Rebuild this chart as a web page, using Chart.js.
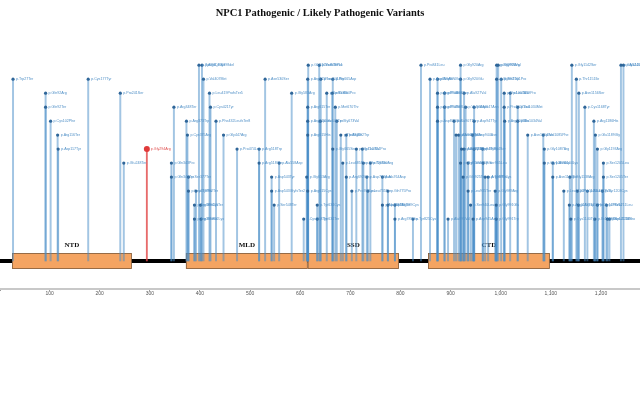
<!DOCTYPE html>
<html><head><meta charset="utf-8">
<script src="https://cdn.jsdelivr.net/npm/chart.js@4.4.0/dist/chart.umd.min.js"></script>
<style>html,body{margin:0;padding:0;background:#fff}</style>
</head><body>
<canvas id="c" width="640" height="400"></canvas>
<script>
// ---------------- DATA ----------------
const chartTitle = 'NPC1 Pathogenic / Likely Pathogenic Variants';
const proteinStart = 1;
const proteinLength = 1278;
const backboneLevel = -2;

const positions = [
  27, 92, 92, 102, 116, 117, 177, 241, 248,
  343, 343, 348, 373, 375, 377, 377, 389, 389, 392, 398, 401, 402, 404, 407, 419, 421, 432, 447, 474,
  518, 518, 530, 543, 543, 548, 558, 583, 607, 613, 615, 615, 615, 615, 615, 616, 634, 634,
  638, 641, 640, 653, 665, 664, 665, 670, 673, 681, 685, 692, 692, 703, 712, 724, 726, 733, 735, 740,
  764, 764, 775, 775, 789, 789, 825,
  841, 859, 874, 874, 874, 874, 888, 888, 895, 907, 911, 916, 920, 920, 920, 922, 925, 927, 927, 930,
  935, 935, 940, 944, 945, 947, 947, 947, 964, 965, 969, 975, 989, 991, 991, 992, 995, 992, 1001,
  1007, 1007, 1008, 1019, 1034, 1034, 1054, 1085, 1087, 1087, 1104, 1104,
  1126, 1137, 1140, 1138, 1142, 1151, 1153, 1155, 1156, 1168, 1173, 1186, 1188, 1189, 1193, 1193,
  1203, 1205, 1205, 1211, 1213, 1217, 1240, 1245
];
const levels = [
  11, 10, 9, 8, 7, 6, 11, 10, 5,
  4, 5, 9, 8, 7, 4, 3, 2, 1, 3, 12, 2, 1, 12, 11, 10, 9, 8, 7, 6,
  6, 5, 11, 4, 3, 2, 5, 10, 1, 4, 3, 7, 8, 9, 11, 12, 2, 1,
  12, 11, 8, 10, 11, 10, 6, 9, 8, 7, 5, 7, 4, 3, 6, 6, 5, 4, 3, 5,
  4, 2, 3, 2, 2, 1, 1,
  12, 11, 11, 10, 9, 8, 10, 9, 1, 8, 7, 7, 12, 11, 5, 6, 4, 10, 6, 9,
  5, 3, 2, 7, 1, 9, 8, 6, 6, 5, 4, 4, 3, 2, 1, 12, 12, 11, 11,
  10, 9, 8, 10, 9, 8, 7, 7, 6, 5, 5, 4,
  3, 2, 1, 4, 12, 11, 3, 2, 10, 9, 3, 8, 1, 7, 6, 2,
  3, 5, 4, 2, 1, 1, 12, 12
];
const variantLabels = [
  'p.Trp27Ter','p.Gln92Arg','p.Gln92Ter','p.Cys102Phe','p.Arg116Ter','p.Asp117Tyr','p.Cys177Tyr','p.Pro241Ser','p.Glu248Ter',
  'p.Gln343Ter','p.Gln343Pro','p.Arg348Ter','p.Arg373Trp','p.Cys375Arg','p.Ser377Ter','p.Leu377Pro','p.Arg389Cys','p.Arg389His','p.Tyr392Ter','p.Tyr394_Gly398del','p.Gln401Ter','p.Glu402Lys','p.Arg404Gln','p.Val407Met','p.Leu419ProfsTer5','p.Cys421Tyr','p.Phe432LeufsTer8','p.Gly447Arg','p.Pro474Leu',
  'p.Arg518Trp','p.Arg518Gln','p.Asn530Ser','p.Asp543Tyr','p.Asp543GlyfsTer2','p.Ser548Ter','p.Ala558Asp','p.Gly583Arg','p.Cys607Tyr','p.Gly613Arg','p.Arg615Cys','p.Arg615His','p.Arg615Leu','p.Arg615Ter','p.Arg615Pro','p.Gly616ValfsTer14','p.Tyr634Cys','p.Tyr634Ter',
  'p.Ser638Pro','p.Leu641Pro','p.Glu640Ter','p.Ser653Ile','p.Gly665Asp','p.Ser664Pro','p.Gly665Ser','p.Met670Thr','p.Gly673Val','p.Thr681Ile','p.Leu685Pro','p.Arg692Trp','p.Arg692Gln','p.Pro703Leu','p.Gly712Glu','p.Leu724Pro','p.Phe726Ser','p.Asp733Asn','p.Leu735Ter','p.Trp740Arg',
  'p.Ala764Asp','p.Ala764Thr','p.Gln775Pro','p.Gln775Ter','p.Arg789Cys','p.Arg789His','p.Tyr825Cys',
  'p.Pro841Leu','p.Asp859Asn','p.Asp874Val','p.Asp874Asn','p.Asp874Ter','p.Asp874Glu','p.Pro888Ser','p.Pro888Leu','p.Ala895Val','p.Ala907Thr','p.Ala911Thr','p.Asn916Ser','p.Gly920Arg','p.Gly920Glu','p.Gly920Val','p.Ala922Val','p.Gln925Ter','p.Ala927Val','p.Ala927Thr','p.Val930Ala',
  'p.Leu935Pro','p.Leu935Ter','p.Ser940Leu','p.Asp944Asn','p.Asp945Asn','p.Asp947Asn','p.Asp947Tyr','p.Asp947Gly','p.Gly964Ser','p.Ser965Leu','p.Arg969Ter','p.Tyr975Cys','p.Gly989Arg','p.Gly991Glu','p.Gly991Trp','p.Gly992Arg','p.Gly995Val','p.Gly992Trp','p.Ser1001Pro',
  'p.Pro1007Ala','p.Pro1007Leu','p.Arg1008Ter','p.Leu1019Pro','p.Val1034Met','p.Ala1034Val','p.Asn1054Ser','p.Val1085Phe','p.Gly1087Arg','p.Gly1087Asp','p.Asn1104Lys','p.Asn1104Ter',
  'p.Leu1126Pro','p.Arg1137Trp','p.Cys1140Tyr','p.Gly1138Arg','p.Gly1142Ser','p.Thr1151Ile','p.Pro1153Leu','p.Asp1155His','p.Asn1156Ser','p.Cys1168Tyr','p.Ala1173Val','p.Arg1186His','p.Ile1188Thr','p.Glu1189Gly','p.Gly1193Arg','p.Gly1193Val',
  'p.Tyr1203Cys','p.Ser1205Leu','p.Ser1205Ter','p.Phe1211Leu','p.Gly1213Ala','p.Leu1217Pro','p.Gly1240Arg','p.Ala1245Thr'
];

const highlightPositions = [294];
const highlightLevels = [6];
const highlightLabels = ['p.Gly294Arg'];

const domainNames = ['NTD', 'MLD', 'SSD', 'CTD'];
const domainStarts = [25, 372, 615, 855];
const domainEnds = [264, 615, 797, 1098];

// ---------------- BUILD ----------------
const stemData = positions.map((p, i) => ({ x: p, y: [backboneLevel, levels[i]] }));
const hlStemData = highlightPositions.map((p, i) => ({ x: p, y: [backboneLevel, highlightLevels[i]] }));
const pointData = positions.map((p, i) => ({ x: p, y: levels[i] }));
const hlPointData = highlightPositions.map((p, i) => ({ x: p, y: highlightLevels[i] }));

const domainPlugin = {
  id: 'domains',
  beforeDatasetDraw(chart, args) {
    if (args.index !== 1) return;
    const { ctx, scales: { x, y } } = chart;
    const top = y.getPixelForValue(backboneLevel + 0.57);
    const bottom = y.getPixelForValue(backboneLevel - 0.57);
    ctx.save();
    domainNames.forEach((name, i) => {
      const x0 = x.getPixelForValue(domainStarts[i]);
      const x1 = x.getPixelForValue(domainEnds[i]);
      ctx.fillStyle = '#f4a462';
      ctx.fillRect(x0, top, x1 - x0, bottom - top);
      ctx.strokeStyle = 'rgba(90,70,50,0.75)';
      ctx.lineWidth = 0.8;
      ctx.strokeRect(x0 + 0.4, top + 0.4, x1 - x0 - 0.8, bottom - top - 0.8);
      ctx.fillStyle = '#111';
      ctx.font = 'bold 7px "Liberation Serif"';
      ctx.textAlign = 'center';
      ctx.textBaseline = 'middle';
      ctx.fillText(name, (x0 + x1) / 2, top - 8);
    });
    ctx.restore();
  }
};

const labelPlugin = {
  id: 'variantLabels',
  afterDatasetsDraw(chart) {
    const ctx = chart.ctx;
    ctx.save();
    ctx.font = '3.6px Arial';
    ctx.textAlign = 'left';
    ctx.textBaseline = 'middle';
    const m1 = chart.getDatasetMeta(3);
    m1.data.forEach((el, i) => {
      ctx.fillStyle = '#4f8fc6';
      ctx.fillText(variantLabels[i], el.x + 3, el.y - 0.5);
    });
    const m2 = chart.getDatasetMeta(4);
    m2.data.forEach((el, i) => {
      ctx.fillStyle = '#e05050';
      ctx.fillText(highlightLabels[i], el.x + 4, el.y - 0.5);
    });
    ctx.restore();
  }
};

new Chart(document.getElementById('c'), {
  type: 'scatter',
  data: {
    datasets: [
      { type: 'line', data: [{ x: proteinStart, y: backboneLevel }, { x: proteinLength, y: backboneLevel }],
        borderColor: '#000', borderWidth: 4, pointRadius: 0, order: 5 },
      { type: 'bar', data: stemData, backgroundColor: 'rgba(70,140,200,0.5)', barThickness: 1.3,
        grouped: false, order: 4 },
      { type: 'bar', data: hlStemData, backgroundColor: 'rgba(225,70,70,0.8)', barThickness: 1.2,
        grouped: false, order: 3 },
      { type: 'scatter', data: pointData, backgroundColor: '#2f6699', borderColor: '#2f6699',
        pointRadius: 1.6, borderWidth: 0, order: 2 },
      { type: 'scatter', data: hlPointData, backgroundColor: '#e03a3a', borderColor: '#e03a3a',
        pointRadius: 3, borderWidth: 0, order: 1 }
    ]
  },
  options: {
    responsive: false,
    animation: false,
    layout: { autoPadding: false, padding: { left: 0, right: 0, top: 0, bottom: 103 } },
    plugins: {
      legend: { display: false },
      tooltip: { enabled: false },
      title: {
        display: true, text: chartTitle, color: '#111',
        font: { family: '"Liberation Serif"', size: 10.5, weight: 'bold' },
        padding: { top: 7, bottom: 12 }
      }
    },
    scales: {
      x: {
        type: 'linear', min: proteinStart, max: proteinLength, offset: false,
        grid: { display: true, drawOnChartArea: false, drawTicks: true, tickLength: 2, color: '#999', offset: false },
        border: { display: true, color: '#c8c8c8', width: 2 },
        ticks: {
          stepSize: 100, padding: 0, color: '#555', maxRotation: 0, autoSkip: false,
          font: { size: 5, family: 'Arial' },
          callback: (v) => (v > 0 && v % 100 === 0) ? v.toLocaleString('en-US') : ''
        }
      },
      y: { type: 'linear', display: false, min: -4, max: 14.4 }
    }
  },
  plugins: [domainPlugin, labelPlugin]
});
</script>
</body></html>
